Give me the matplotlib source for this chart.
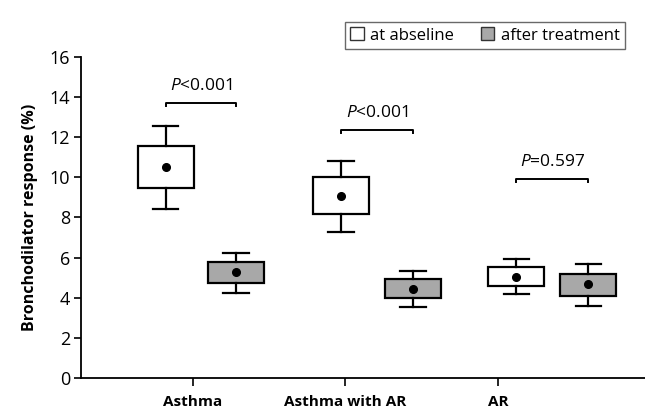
import numpy as np
import matplotlib
matplotlib.use("Agg")
import matplotlib.pyplot as plt
from matplotlib.patches import Patch

plt.rcParams['font.family'] = ['Open Sans', 'DejaVu Sans']
plt.rcParams['mathtext.fontset'] = 'custom'
plt.rcParams['mathtext.it'] = 'Open Sans:italic'
plt.rcParams['mathtext.rm'] = 'Open Sans'

# data
groups = ['Asthma', 'Asthma with AR', 'AR']
series = ['at abseline', 'after treatment']

# per group: [baseline, after treatment]
whis_lo = [[8.42, 4.22], [7.29, 3.52], [4.19, 3.60]]
q1 = [[9.46, 4.72], [8.18, 3.97], [4.60, 4.10]]
mean = [[10.52, 5.27], [9.07, 4.45], [5.05, 4.67]]
q3 = [[11.57, 5.78], [10.00, 4.94], [5.52, 5.20]]
whis_hi = [[12.53, 6.22], [10.83, 5.35], [5.93, 5.68]]

p_labels = [r'$\mathit{P}$<0.001', r'$\mathit{P}$<0.001', r'$\mathit{P}$=0.597']
bracket_y = [13.69, 12.33, 9.92]

# layout (boxes in the original sit a bit off the category ticks)
box_pos = [[0.825, 1.284], [1.971, 2.442], [3.117, 3.589]]
colors = ['white', '#a8a8a8']

fig = plt.figure(figsize=(6.45, 4.09), dpi=100)
ax = fig.add_axes([0.1256, 0.0758, 0.8744, 0.7856])

for g in range(len(groups)):
    for s in range(2):
        stats = [dict(whislo=whis_lo[g][s], q1=q1[g][s], med=mean[g][s],
                      q3=q3[g][s], whishi=whis_hi[g][s], mean=mean[g][s])]
        ax.bxp(stats, positions=[box_pos[g][s]], widths=0.367, capwidths=0.164,
               patch_artist=True, showmeans=True, showfliers=False,
               boxprops=dict(facecolor=colors[s], edgecolor='black', linewidth=1.6),
               whiskerprops=dict(color='black', linewidth=1.6),
               capprops=dict(color='black', linewidth=1.6),
               medianprops=dict(linewidth=0),
               meanprops=dict(marker='o', markerfacecolor='black',
                              markeredgecolor='black', markersize=5.5))

    # significance bracket
    x0, x1 = box_pos[g]
    y = bracket_y[g]
    ax.plot([x0, x0, x1, x1], [y - 0.15, y, y, y - 0.15], color='black', lw=1.4)
    ax.text((x0 + x1) / 2, y + 0.85, p_labels[g], ha='center', va='center',
            fontsize=12.5)

ax.set_xlim(0.27, 3.96)
ax.set_ylim(0, 16)
ax.set_yticks(np.arange(0, 17, 2))
ax.set_xticks([1, 2, 3])
ax.set_xticklabels(groups, fontweight='bold', fontsize=11)
ax.tick_params(axis='y', labelsize=13, length=5, width=1.2, pad=3)
ax.tick_params(axis='x', length=6, width=1.2, pad=6)
ax.spines['top'].set_visible(False)
ax.spines['right'].set_visible(False)
ax.spines['left'].set_linewidth(1.3)
ax.spines['bottom'].set_linewidth(1.3)
ax.set_ylabel('Bronchodilator response (%)', fontweight='bold', fontsize=11.5,
              labelpad=8)

handles = [Patch(facecolor=c, edgecolor='#333333', linewidth=1) for c in colors]
leg = fig.legend(handles, series, loc='upper right',
                 bbox_to_anchor=(633 / 645, 1 - 14 / 409),
                 bbox_transform=fig.transFigure, ncol=2, fancybox=False,
                 edgecolor='#444444', fontsize=12, handlelength=0.8,
                 handleheight=0.8, handletextpad=0.4, columnspacing=1.6,
                 borderpad=0.3)
leg.get_frame().set_linewidth(1.0)

fig.savefig('out.png', dpi=100)
